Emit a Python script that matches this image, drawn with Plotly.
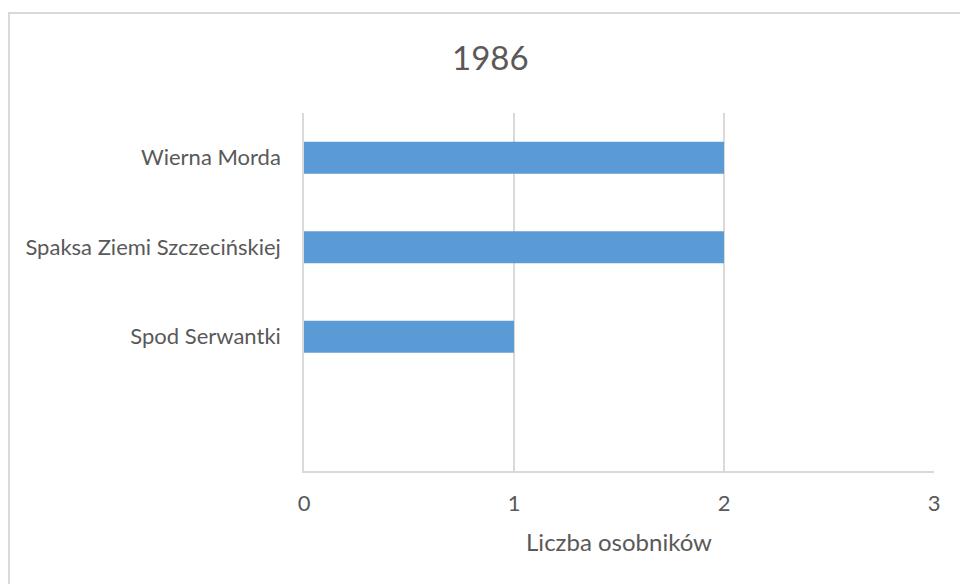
import plotly.graph_objects as go

categories = ["Wierna Morda", "Spaksa Ziemi Szczecińskiej", "Spod Serwantki", " "]
values = [2, 2, 1, None]
title_text = "1986"
x_title = "Liczba osobników"
x_ticks = [0, 1, 2, 3]

FONT = "Lato"
GRAY_TXT = "#595959"
GRID = "#d9d9d9"

fig = go.Figure(go.Bar(
    y=categories, x=values, orientation="h",
    marker=dict(color="#5B9BD5", line=dict(width=0)),
    hoverinfo="x+y",
))

W, H = 960, 584
L, R, T, B = 304, 26, 113, 113
pw = W - L - R
ph = H - T - B

def px_to_paper_x(px):
    return (px - L) / pw

def py_to_paper_y(py):
    return (H - B - py) / ph

fig.update_layout(
    width=W, height=H,
    margin=dict(l=L, r=R, t=T, b=B),
    paper_bgcolor="white", plot_bgcolor="white",
    showlegend=False,
    bargap=0.64,
    font=dict(family=FONT, color=GRAY_TXT),
    xaxis=dict(
        range=[0, 3], tickvals=x_ticks, showgrid=True, gridcolor=GRID, gridwidth=1.5,
        zeroline=False, showline=True, linecolor=GRID, linewidth=1.5,
        tickfont=dict(size=22, color=GRAY_TXT, family=FONT),
        ticks="", ticklabelstandoff=12,
        title=dict(text=x_title, font=dict(size=24, color=GRAY_TXT, family=FONT), standoff=19),
        fixedrange=True,
    ),
    yaxis=dict(
        categoryorder="array", categoryarray=categories, autorange="reversed",
        showgrid=False, showline=True, linecolor=GRID, linewidth=1.5,
        tickfont=dict(size=22, color=GRAY_TXT, family=FONT),
        ticks="", ticklabelstandoff=17,
        fixedrange=True,
    ),
    shapes=[dict(
        type="rect", xref="paper", yref="paper",
        x0=px_to_paper_x(9), x1=px_to_paper_x(975),
        y0=py_to_paper_y(600), y1=py_to_paper_y(13),
        line=dict(color=GRID, width=2), fillcolor="rgba(0,0,0,0)", layer="below",
    )],
    annotations=[dict(
        text=title_text, xref="paper", yref="paper",
        x=px_to_paper_x(490), y=py_to_paper_y(57),
        xanchor="center", yanchor="middle", showarrow=False,
        font=dict(size=33, color=GRAY_TXT, family=FONT),
    )],
)

fig.write_html(
    "out.html",
    config={"displayModeBar": False},
    post_script="document.body.style.margin='0';document.body.style.overflow='hidden';",
)
